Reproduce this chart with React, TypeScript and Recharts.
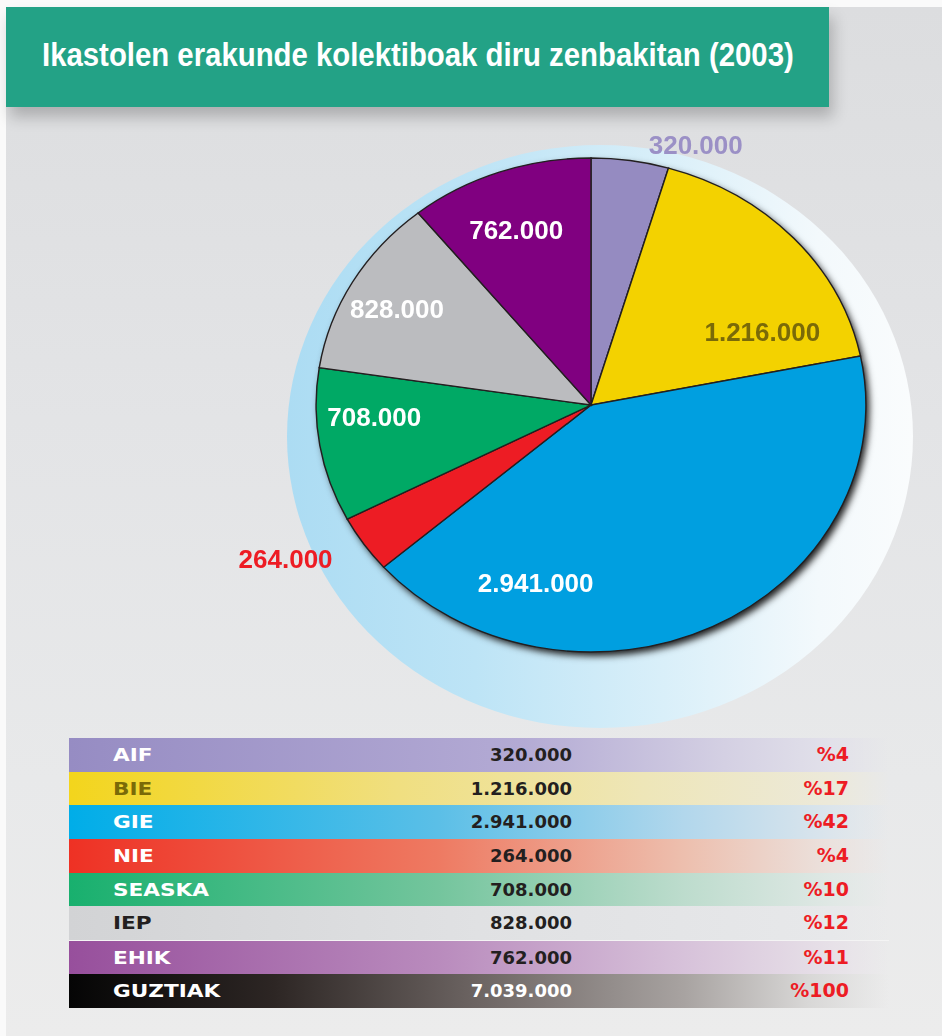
import { PieChart, Pie, Cell } from 'recharts';

const names = ['AIF', 'BIE', 'GIE', 'NIE', 'SEASKA', 'IEP', 'EHIK'];
const amounts = [320000, 1216000, 2941000, 264000, 708000, 828000, 762000];
const amountLabels = ['320.000', '1.216.000', '2.941.000', '264.000', '708.000', '828.000', '762.000'];
const percents = [4, 17, 42, 4, 10, 12, 11];
const totalName = 'GUZTIAK';
const totalLabel = '7.039.000';
const totalPercent = 100;

const sliceColors = ['#958bc1', '#f3d200', '#009fe0', '#ed1c24', '#00a965', '#bbbcbf', '#800080'];
const labelColors = ['#9b90c6', '#7a6a08', '#ffffff', '#ed1c24', '#ffffff', '#ffffff', '#ffffff'];
// label placement: radius factor and angle shift relative to the slice's mid angle
const labelRadius = [1.12, 0.69, 0.75, 1.275, 0.79, 0.805, 0.76];
const labelShift = [-11.7, -17.1, -41.8, -4.9, -5.9, 1.1, 1.5];

// table row gradients
const rowGradients = [
  'linear-gradient(to right, #968cc3 0%, #b3aad4 55%, #d4d0e3 80%, #e2e1ea 93%, rgba(226,226,232,0) 100%)',
  'linear-gradient(to right, #f3d51c 0%, #f0df80 40%, #eee6b8 70%, #ece9da 93%, rgba(236,234,226,0) 100%)',
  'linear-gradient(to right, #00ade8 0%, #5bbfe7 45%, #b2d7ec 75%, #dce5ec 93%, rgba(226,230,234,0) 100%)',
  'linear-gradient(to right, #ee3124 0%, #ee7a62 45%, #edbfae 75%, #ebe2de 93%, rgba(232,230,230,0) 100%)',
  'linear-gradient(to right, #18b06e 0%, #74c59d 45%, #bddccd 75%, #e0e8e5 93%, rgba(230,232,232,0) 100%)',
  'linear-gradient(to right, #d2d3d5 0%, #e0e1e3 50%, #e7e8ea 93%, rgba(232,232,234,0) 100%)',
  'linear-gradient(to right, #974f9c 0%, #b98bbd 45%, #d7c2da 75%, #e7e1e8 93%, rgba(232,230,232,0) 100%)',
  'linear-gradient(to right, #050505 0%, #2d2624 25%, #6d6563 50%, #a8a3a1 75%, #d8d7d6 90%, rgba(236,236,236,0) 100%)',
];
const rowNameColors = ['#ffffff', '#7a6a08', '#ffffff', '#ffffff', '#ffffff', '#231f20', '#ffffff', '#ffffff'];
const rowValueColors = ['#231f20', '#231f20', '#231f20', '#231f20', '#231f20', '#231f20', '#231f20', '#ffffff'];

const pieData = names.map((name, i) => ({ name, value: amounts[i], label: amountLabels[i] }));

const SX = 1.113; // horizontal stretch of the pie (ellipse)
const RAD = Math.PI / 180;
const CW = 760;
const CH = 600;
const PCX = 380;
const PCY = 300;

function renderLabel(props: any) {
  const { cx, cy, midAngle, outerRadius, index } = props;
  const i = typeof index === 'number' ? index : names.indexOf(props.name);
  const angle = midAngle + labelShift[i];
  const r = outerRadius * labelRadius[i];
  const x = cx + r * Math.cos(-angle * RAD);
  const y = cy + r * Math.sin(-angle * RAD);
  return (
    <text
      key={`lbl-${i}`}
      transform={`translate(${x} ${y}) scale(${1 / SX} 1)`}
      textAnchor="middle"
      dominantBaseline="central"
      fill={labelColors[i]}
      fontFamily="'Liberation Sans', Arial, sans-serif"
      fontWeight={700}
      fontSize={26}
    >
      {amountLabels[i]}
    </text>
  );
}

export default function App() {
  const rows = [
    ...names.map((n, i) => ({ name: n, value: amountLabels[i], pct: percents[i] })),
    { name: totalName, value: totalLabel, pct: totalPercent },
  ];

  return (
    <div
      style={{
        position: 'absolute',
        left: 0,
        top: 0,
        width: 942,
        height: 1036,
        background: '#fafafa',
        overflow: 'hidden',
        fontFamily: "'DejaVu Sans', sans-serif",
      }}
    >
      <style>{`.pie-shadow { filter: blur(2.5px); }`}</style>
      {/* gray panel */}
      <div
        style={{
          position: 'absolute',
          left: 6,
          top: 7,
          width: 936,
          height: 1029,
          background: 'linear-gradient(to bottom, #dcdddf 0%, #e3e4e6 40%, #e8e9ea 75%, #ececec 100%)',
        }}
      />
      {/* title */}
      <div
        style={{
          position: 'absolute',
          left: 6,
          top: 7,
          width: 823,
          height: 100,
          background: '#23a286',
          boxShadow: '4px 10px 14px rgba(0,0,0,0.22)',
        }}
      >
        <div
          style={{
            position: 'absolute',
            left: 36,
            top: 27,
            whiteSpace: 'nowrap',
            color: '#ffffff',
            fontFamily: "'Liberation Sans', Arial, sans-serif",
            fontWeight: 700,
            fontSize: 34,
            lineHeight: '40px',
            transform: 'scaleX(0.863)',
            transformOrigin: '0 0',
          }}
        >
          Ikastolen erakunde kolektiboak diru zenbakitan (2003)
        </div>
      </div>

      {/* halo behind the pie */}
      <div
        style={{
          position: 'absolute',
          left: 287,
          top: 145,
          width: 626,
          height: 583,
          borderRadius: '50%',
          background: 'linear-gradient(to right, #acdcf3 0%, #bde4f6 30%, #d9eff9 60%, #f3f9fc 85%, #fafcfd 100%)',
        }}
      />

      {/* pie */}
      <div
        style={{
          position: 'absolute',
          left: 591 - PCX,
          top: 405 - PCY,
          width: CW,
          height: CH,
          transform: `scaleX(${SX})`,
          transformOrigin: `${PCX}px ${PCY}px`,
        }}
      >
        <PieChart width={CW} height={CH} margin={{ top: 0, right: 0, bottom: 0, left: 0 }}>
          <Pie
            data={pieData}
            dataKey="value"
            nameKey="name"
            cx={PCX + 3}
            cy={PCY + 4}
            outerRadius={247}
            startAngle={90}
            endAngle={-270}
            stroke="none"
            fill="#1a1a1a"
            className="pie-shadow"
            isAnimationActive={false}
            label={false}
            labelLine={false}
          >
            {pieData.map((d, i) => (
              <Cell key={`sh-${i}`} fill="#1e1e1e" />
            ))}
          </Pie>
          <Pie
            data={pieData}
            dataKey="value"
            nameKey="name"
            cx={PCX}
            cy={PCY}
            outerRadius={247}
            startAngle={90}
            endAngle={-270}
            stroke="#231f20"
            strokeWidth={1.3}
            isAnimationActive={false}
            label={renderLabel}
            labelLine={false}
          >
            {pieData.map((d, i) => (
              <Cell key={`c-${i}`} fill={sliceColors[i]} />
            ))}
          </Pie>
        </PieChart>
      </div>

      {/* table */}
      <div style={{ position: 'absolute', left: 69, top: 738, width: 820 }}>
        {rows.map((r, i) => (
          <div
            key={r.name}
            style={{
              position: 'relative',
              height: 33.7,
              background: rowGradients[i],
              borderTop: i === 6 ? '1px solid #f4f4f4' : undefined,
              boxSizing: 'border-box',
            }}
          >
            <div
              style={{
                position: 'absolute',
                left: 44,
                top: 0,
                lineHeight: '33px',
                fontSize: 18,
                fontWeight: 700,
                color: rowNameColors[i],
                transform: 'scaleX(1.2)',
                transformOrigin: '0 50%',
                whiteSpace: 'nowrap',
              }}
            >
              {r.name}
            </div>
            <div
              style={{
                position: 'absolute',
                right: 820 - 503,
                top: 0,
                lineHeight: '33px',
                fontSize: 18,
                fontWeight: 700,
                color: rowValueColors[i],
                whiteSpace: 'nowrap',
              }}
            >
              {r.value}
            </div>
            <div
              style={{
                position: 'absolute',
                right: 820 - 780,
                top: 0,
                lineHeight: '33px',
                fontSize: 19,
                fontWeight: 700,
                color: '#ed1c24',
                whiteSpace: 'nowrap',
              }}
            >
              %{r.pct}
            </div>
          </div>
        ))}
      </div>
    </div>
  );
}
